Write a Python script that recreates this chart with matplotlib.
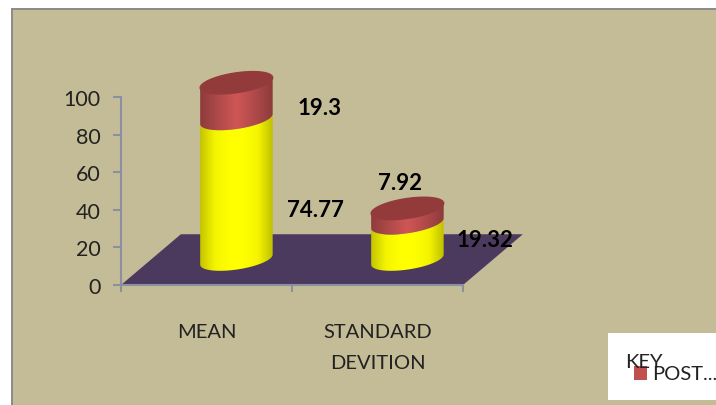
"""3D-look stacked cylinder chart drawn on plain matplotlib axes."""
import matplotlib
matplotlib.use('Agg')
import matplotlib.pyplot as plt
import matplotlib.patches as mpatches
import numpy as np
from matplotlib.colors import LinearSegmentedColormap

plt.rcParams['font.family'] = ['Lato', 'DejaVu Sans']

categories = ['MEAN', 'STANDARD\nDEVITION']
lower_values = [74.77, 19.32]
upper_values = [19.3, 7.92]
y_ticks = [0, 20, 40, 60, 80, 100]

W, H = 716, 406
fig = plt.figure(figsize=(W / 100, H / 100), dpi=100, facecolor='white')

# Helper to place things in pixel coords of the figure
def fig_rect(x, y, w, h, color, zorder=0):
    fig.add_artist(mpatches.Rectangle((x / W, 1 - (y + h) / H), w / W, h / H,
                                      transform=fig.transFigure, facecolor=color,
                                      edgecolor='none', zorder=zorder))

fig_rect(11, 9, W - 11, H - 9, '#8c8c8c', zorder=-2)
fig_rect(13, 11, W - 13, H - 11, '#c4bc96', zorder=-1)

ax = fig.add_axes([121 / W, 1 - 286 / H, 342 / W, 188 / H])
ax.set_xlim(0, 2)
ax.set_ylim(0, 100)
ax.patch.set_visible(False)

# depth of the fake 3D floor, in data units
depth_x = 0.35
depth_y = 27
half_w = 0.212
ell_b = 5.3
ell_k = 2.7

floor = mpatches.Polygon([(0, 0), (2, 0), (2 + depth_x, depth_y), (depth_x, depth_y)],
                         closed=True, facecolor='#4b3a5e', edgecolor='none',
                         clip_on=False, zorder=1)
ax.add_patch(floor)

yellow = LinearSegmentedColormap.from_list('y', ['#c4c400', '#f4f400', '#ffff00', '#ffff00', '#f4f400', '#c0c000'])
red = LinearSegmentedColormap.from_list('r', ['#8e3b3b', '#b04a4a', '#d05656', '#b04a4a', '#8e3b3b'])
grad = np.linspace(0, 1, 128).reshape(1, -1)
t = np.linspace(0, 2 * np.pi, 200)

def ellipse(cx, cy):
    return cx + half_w * np.cos(t), cy + ell_b * np.sin(t) + ell_k * np.cos(t)

def cylinder(cx, y0, y1, cmap, z):
    # body outline = lower half of bottom ellipse + lower half of top ellipse
    s = np.linspace(0, np.pi, 80)
    xb = cx + half_w * np.cos(s)
    low = -ell_b * np.sin(s) + ell_k * np.cos(s)
    xs = np.r_[xb, xb[::-1]]
    ys = np.r_[y0 + low, (y1 + low)[::-1]]
    body = mpatches.Polygon(np.c_[xs, ys], closed=True, transform=ax.transData,
                            facecolor='none', edgecolor='none')
    ax.add_patch(body)
    im = ax.imshow(grad, cmap=cmap, aspect='auto', zorder=z,
                   extent=(cx - half_w, cx + half_w, y0 - 20, y1 + 20))
    # the image would otherwise be cropped to the axes box at y=100
    im.set_clip_box(fig.bbox)
    im.set_clip_path(body)

for i, (low_v, up_v) in enumerate(zip(lower_values, upper_values)):
    cx = i + 0.5 + depth_x / 2
    base = depth_y / 2
    cylinder(cx, base, base + low_v, yellow, 2 + i)
    cylinder(cx, base + low_v, base + low_v + up_v, red, 2.3 + i)
    ex, ey = ellipse(cx, base + low_v + up_v)
    ax.fill(ex, ey, color='#933b3b', zorder=2.6 + i, clip_on=False)

ax.set_xlim(0, 2)
ax.set_ylim(0, 100)

for side in ['top', 'right']:
    ax.spines[side].set_visible(False)
for side in ['left', 'bottom']:
    ax.spines[side].set_color('#8a90a2')
    ax.spines[side].set_linewidth(1.5)

ax.set_yticks(y_ticks)
ax.tick_params(axis='y', length=5.8, width=1.5, color='#8a90a2', labelsize=15.5, pad=9,
               labelcolor='#222222')
ax.set_xticks([0, 1, 2])
ax.set_xticklabels([])
ax.tick_params(axis='x', which='major', length=5, width=1.5, color='#8a90a2')
ax.set_xticks([0.5, 1.5], minor=True)
ax.set_xticklabels(categories, minor=True, fontsize=14.5, color='#222222', linespacing=2.05)
ax.tick_params(axis='x', which='minor', length=0, pad=27)

# data labels, in figure pixels
label_px = [(320, 109, upper_values[0]), (315, 211, lower_values[0]),
            (400, 183, upper_values[1]), (485, 241, lower_values[1])]
for x, y, v in label_px:
    fig.text(x / W, 1 - y / H, str(v), ha='center', va='center', fontsize=16,
             fontweight='bold', color='black', zorder=10)

# legend box
fig_rect(608, 334, 108, 67, 'white', zorder=3)
fig_rect(634, 367, 13, 14, '#c0504d', zorder=4)
fig.text(625 / W, 1 - 363 / H, 'KEY', ha='left', va='center', fontsize=14.5, color='#222222', zorder=5)
fig.text(652 / W, 1 - 375 / H, 'POST...', ha='left', va='center', fontsize=14.5, color='#222222', zorder=5)

plt.savefig('out.png', dpi=100)
plt.close()
